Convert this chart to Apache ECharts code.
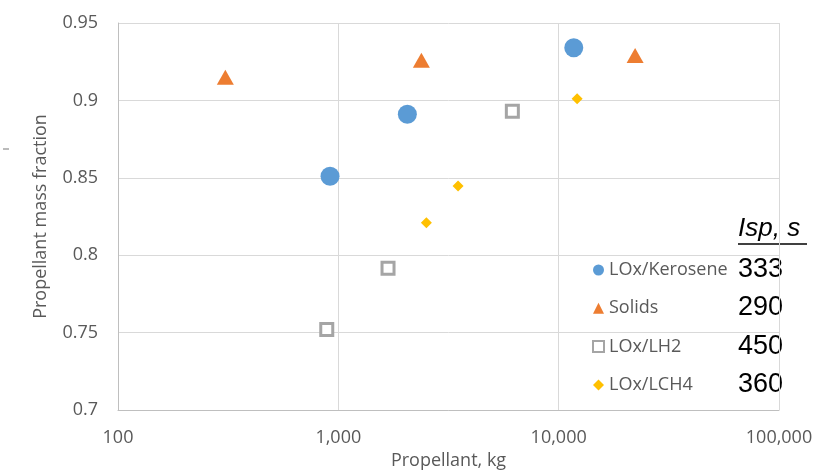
<!DOCTYPE html>
<html>
<head>
<meta charset="utf-8">
<script src="https://cdn.jsdelivr.net/npm/echarts@6/dist/echarts.min.js"></script>
<style>html,body{margin:0;padding:0;background:#fff}#c{width:818px;height:476px}</style>
</head>
<body>
<div id="c"></div>
<script>
// Data
const seriesNames = ['LOx/Kerosene', 'Solids', 'LOx/LH2', 'LOx/LCH4'];
const ispValues = [333, 290, 450, 360];
const keroseneX = [917, 2057, 11710];
const keroseneY = [0.851, 0.891, 0.934];
const solidsX = [307, 2382, 22230];
const solidsY = [0.915, 0.926, 0.929];
const lh2X = [886, 1681, 6163];
const lh2Y = [0.752, 0.7915, 0.893];
const lch4X = [2509, 3494, 12130];
const lch4Y = [0.821, 0.8447, 0.901];
const xTicks = [100, 1000, 10000, 100000];
const yTicks = [0.7, 0.75, 0.8, 0.85, 0.9, 0.95];

const zip = (xs, ys) => xs.map((x, i) => [x, ys[i]]);
const gray = '#595959';
const font = '"Open Sans", sans-serif';

const chart = echarts.init(document.getElementById('c'));
const rowY = [270, 308, 347, 385];
const graphics = [
  { type: 'text', left: 738, top: 216, style: { text: 'Isp, s', font: 'italic 26px "Liberation Sans", Arial, sans-serif', fill: '#000' } },
  { type: 'line', shape: { x1: 738, y1: 244, x2: 807, y2: 244 }, style: { stroke: '#000', lineWidth: 1.5 } },
  { type: 'rect', shape: { x: 3, y: 148, width: 6, height: 2 }, style: { fill: '#bbb' } }
];
ispValues.forEach((v, i) => {
  graphics.push({ type: 'text', left: 738, top: rowY[i] - 14, style: { text: String(v), font: '27px "Liberation Sans", Arial, sans-serif', fill: '#000' } });
});

chart.setOption({
  animation: false,
  backgroundColor: '#fff',
  grid: { left: 118, right: 39, top: 23, bottom: 66, containLabel: false, outerBoundsMode: 'none' },
  xAxis: {
    type: 'log', logBase: 10, min: xTicks[0], max: xTicks[xTicks.length - 1],
    name: 'Propellant, kg', nameLocation: 'middle', nameGap: 40,
    nameTextStyle: { color: gray, fontSize: 18, fontFamily: font },
    axisLine: { show: true, lineStyle: { color: '#bfbfbf', width: 1 } },
    axisTick: { show: false },
    splitLine: { show: true, lineStyle: { color: '#d9d9d9', width: 1 } },
    minorTick: { show: false },
    axisLabel: { color: gray, fontSize: 18, fontFamily: font, margin: 19,
      formatter: v => Number(v).toLocaleString('en-US') }
  },
  yAxis: {
    type: 'value', min: yTicks[0], max: yTicks[yTicks.length - 1], interval: 0.05,
    name: 'Propellant mass fraction', nameLocation: 'middle', nameGap: 68,
    nameTextStyle: { color: gray, fontSize: 18, fontFamily: font },
    axisLine: { show: true, lineStyle: { color: '#bfbfbf', width: 1 } },
    axisTick: { show: false },
    splitLine: { show: true, lineStyle: { color: '#d9d9d9', width: 1 } },
    axisLabel: { color: gray, fontSize: 18, fontFamily: font, margin: 20,
      formatter: v => String(+v.toFixed(2)) }
  },
  legend: {
    orient: 'vertical', left: 592, top: 261, padding: 0,
    itemWidth: 11, itemHeight: 11, itemGap: 20.3,
    textStyle: { color: gray, fontSize: 18, fontFamily: font, lineHeight: 18 },
    data: seriesNames
  },
  series: [
    { name: seriesNames[0], type: 'scatter', symbol: 'circle', symbolSize: 19,
      itemStyle: { color: '#5b9bd5', opacity: 1 }, data: zip(keroseneX, keroseneY) },
    { name: seriesNames[1], type: 'scatter', symbol: 'triangle', symbolSize: [17, 15],
      itemStyle: { color: '#ed7d31', opacity: 1 }, data: zip(solidsX, solidsY) },
    { name: seriesNames[2], type: 'scatter', symbol: 'rect', symbolSize: 12,
      itemStyle: { color: '#fff', borderColor: '#a5a5a5', borderWidth: 3, opacity: 1 }, data: zip(lh2X, lh2Y) },
    { name: seriesNames[3], type: 'scatter', symbol: 'diamond', symbolSize: 11,
      itemStyle: { color: '#ffc000', opacity: 1 }, data: zip(lch4X, lch4Y) }
  ],
  graphic: graphics
});
</script>
</body>
</html>
